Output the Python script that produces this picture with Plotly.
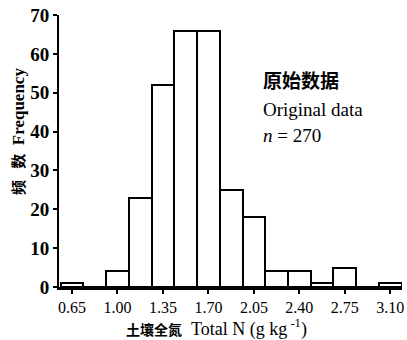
import plotly.graph_objects as go

# Bin centres (g kg-1) and frequencies
bin_centers = [0.65, 0.825, 1.00, 1.175, 1.35, 1.525, 1.70, 1.875, 2.05, 2.225, 2.40, 2.575, 2.75, 2.925, 3.10]
frequencies = [1, 0, 4, 23, 52, 66, 66, 25, 18, 4, 4, 1, 5, 0, 1]
x_ticks = [0.65, 1.00, 1.35, 1.70, 2.05, 2.40, 2.75, 3.10]
x_tick_labels = ["0.65", "1.00", "1.35", "1.70", "2.05", "2.40", "2.75", "3.10"]
y_ticks = [0, 10, 20, 30, 40, 50, 60, 70]

SERIF = "Liberation Serif, Times New Roman, Noto Sans CJK SC, serif"

fig = go.Figure()
fig.add_trace(go.Bar(
    x=bin_centers, y=frequencies, width=0.175,
    marker=dict(color="white", line=dict(color="black", width=2)),
    showlegend=False,
))

fig.update_layout(
    width=407, height=340,
    margin=dict(l=59, r=5, t=15, b=53, autoexpand=False),
    paper_bgcolor="white", plot_bgcolor="white",
    font=dict(family=SERIF, size=16, color="black"),
    xaxis=dict(
        range=[0.55, 3.19], tickmode="array", tickvals=x_ticks, ticktext=x_tick_labels,
        showline=True, linecolor="black", linewidth=2.5, ticks="outside", ticklen=4,
        tickwidth=1.5, tickcolor="black", showgrid=False, zeroline=False,
        tickfont=dict(family=SERIF, size=16), automargin=False,
    ),
    yaxis=dict(
        range=[0, 70], tickmode="array", tickvals=y_ticks,
        showline=True, linecolor="black", linewidth=2, ticks="outside", ticklen=4,
        tickwidth=1.5, tickcolor="black", showgrid=False, zeroline=False,
        tickfont=dict(family=SERIF, size=19, weight="bold"), automargin=False,
    ),
    bargap=0,
)

fig.add_annotation(
    text="<b><span style='font-size:15px'>频&nbsp;&nbsp;&nbsp;数</span>&nbsp;&nbsp;Frequency</b>",
    xref="paper", yref="paper",
    x=(18-59)/343, y=(287-132)/272, textangle=-90, showarrow=False,
    font=dict(family=SERIF, size=17), xanchor="center", yanchor="middle",
)
fig.add_annotation(
    text="<b><span style='font-size:14px'>土壤全氮</span></b>&nbsp;&nbsp;Total N (g kg<sup> -1</sup>)",
    xref="paper", yref="paper",
    x=(124-59)/343, y=-(328-287)/272, showarrow=False,
    font=dict(family=SERIF, size=18), xanchor="left", yanchor="middle",
)
for txt, ypx in [("<b>原始数据</b>", 81), ("Original data", 109), ("<i>n</i> = 270", 135)]:
    fig.add_annotation(
        text=txt, xref="paper", yref="paper",
        x=(261-59)/343, y=(287-ypx)/272, showarrow=False,
        font=dict(family=SERIF, size=19), xanchor="left", yanchor="middle",
    )

fig.write_html("out.html", config={"displayModeBar": False},
               post_script="document.body.style.margin='0';document.body.style.overflow='hidden';")
